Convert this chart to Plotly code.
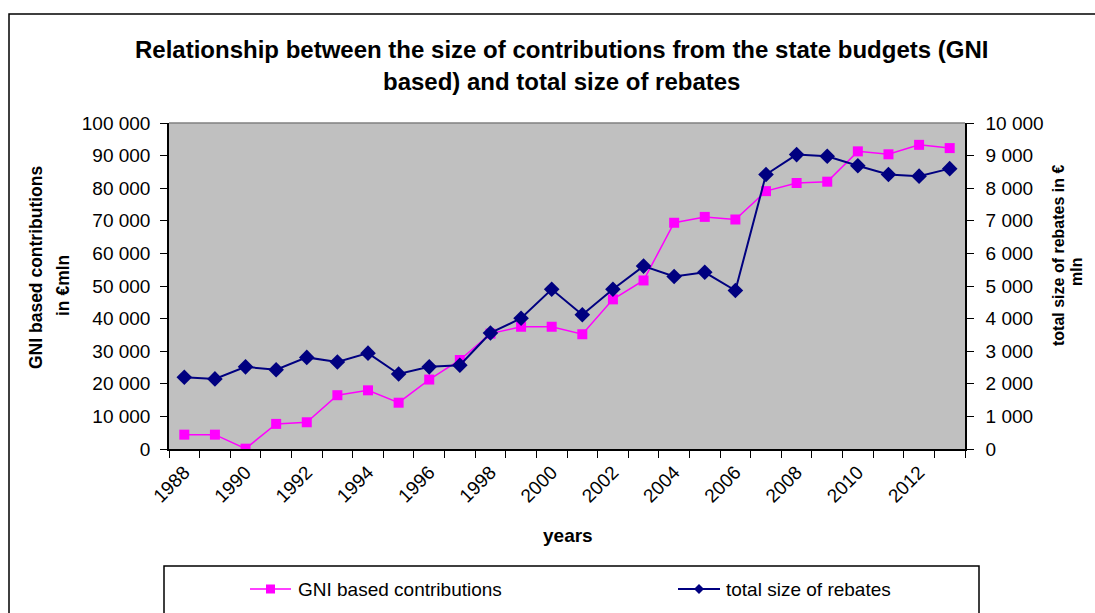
import plotly.graph_objects as go

years = list(range(1988, 2014))
gni = [4400, 4400, 100, 7700, 8200, 16500, 18000, 14200, 21300, 27300,
       35400, 37500, 37500, 35200, 45900, 51700, 69400, 71200, 70400, 79100,
       81600, 82000, 91300, 90400, 93300, 92300]
rebates = [2200, 2150, 2520, 2430, 2810, 2670, 2940, 2300, 2520, 2570,
           3560, 4010, 4900, 4120, 4900, 5610, 5290, 5420, 4860, 8420,
           9030, 8980, 8690, 8420, 8370, 8600]
tick_years = list(range(1988, 2013, 2))
left_ticks = list(range(0, 100001, 10000))
right_ticks = list(range(0, 10001, 1000))

def fmt(v):
    return f"{v:,}".replace(",", " ")

PINK = "#FF00FF"
NAVY = "#000080"
FONT = "Arial, Liberation Sans, sans-serif"

# plot area in pixels
L, R, T, B = 169, 965, 123, 449
W, H = R - L, B - T

def px(x):
    return (x - L) / W

def py(y):
    return (B - y) / H

fig = go.Figure()
fig.add_trace(go.Scatter(x=years, y=gni, mode="lines+markers", name="GNI based contributions",
                         line=dict(color=PINK, width=1.5),
                         marker=dict(symbol="square", size=10, color=PINK), yaxis="y"))
fig.add_trace(go.Scatter(x=years, y=rebates, mode="lines+markers", name="total size of rebates",
                         line=dict(color=NAVY, width=2),
                         marker=dict(symbol="diamond", size=12, color=NAVY), yaxis="y2"))

TICKSZ = 19
fig.update_layout(
    width=1095, height=613,
    margin=dict(l=L, r=1095 - R, t=T, b=613 - B, pad=0),
    paper_bgcolor="white", plot_bgcolor="#C0C0C0",
    showlegend=False,
    font=dict(family=FONT, color="black", size=TICKSZ),
    xaxis=dict(range=[1987.5, 2013.5], tickvals=tick_years, ticktext=[str(y) for y in tick_years],
               tickangle=-45, ticks="", showgrid=False, zeroline=False,
               showline=True, linecolor="black", linewidth=1.5, ticklabelstandoff=3,
               tickfont=dict(size=TICKSZ, family=FONT),
               minor=dict(tickmode="linear", tick0=1987.5, dtick=1, ticks="outside",
                          ticklen=7, tickcolor="black", showgrid=False)),
    yaxis=dict(range=[0, 100000], tickvals=left_ticks, ticktext=[fmt(v) for v in left_ticks],
               ticks="outside", ticklen=7, tickcolor="black", showgrid=False, zeroline=False,
               showline=True, linecolor="black", linewidth=1.5, ticklabelstandoff=6,
               tickfont=dict(size=TICKSZ, family=FONT)),
    yaxis2=dict(range=[0, 10000], overlaying="y", side="right", tickvals=right_ticks,
                ticktext=[fmt(v) for v in right_ticks],
                ticks="outside", ticklen=7, tickcolor="black", showgrid=False, zeroline=False,
                showline=True, linecolor="black", linewidth=1.5, ticklabelstandoff=8,
                tickfont=dict(size=TICKSZ, family=FONT)),
)

shapes = []
# outer chart border (partially off-screen)
shapes.append(dict(type="rect", xref="paper", yref="paper", x0=px(9), x1=px(1120),
                   y0=py(640), y1=py(14), line=dict(color="black", width=1.5), layer="below"))
# plot-area top border
shapes.append(dict(type="line", xref="paper", yref="paper", x0=0, x1=1, y0=1, y1=1,
                   line=dict(color="#808080", width=1.5)))
# legend box
shapes.append(dict(type="rect", xref="paper", yref="paper", x0=px(164), x1=px(979),
                   y0=py(640), y1=py(566), line=dict(color="black", width=1.5)))
# legend symbols
ly = 589
shapes.append(dict(type="line", xref="paper", yref="paper", x0=px(250), x1=px(291),
                   y0=py(ly), y1=py(ly), line=dict(color=PINK, width=1.5)))
shapes.append(dict(type="rect", xref="paper", yref="paper", x0=px(266), x1=px(275),
                   y0=py(ly + 4.5), y1=py(ly - 4.5), fillcolor=PINK, line=dict(width=0)))
shapes.append(dict(type="line", xref="paper", yref="paper", x0=px(678), x1=px(720),
                   y0=py(ly), y1=py(ly), line=dict(color=NAVY, width=2)))
cx = 699
shapes.append(dict(type="path", xref="paper", yref="paper",
                   path=f"M {px(cx-5)},{py(ly)} L {px(cx)},{py(ly-5)} L {px(cx+5)},{py(ly)} L {px(cx)},{py(ly+5)} Z",
                   fillcolor=NAVY, line=dict(width=0)))
fig.update_layout(shapes=shapes)

ann = []
ann.append(dict(text="<b>Relationship between the size of contributions from the state budgets (GNI</b>",
                x=px(561), y=py(49), xref="paper", yref="paper", showarrow=False,
                xanchor="center", yanchor="middle", font=dict(size=24, family=FONT)))
ann.append(dict(text="<b>based) and total size of rebates</b>",
                x=px(561), y=py(81), xref="paper", yref="paper", showarrow=False,
                xanchor="center", yanchor="middle", font=dict(size=24, family=FONT)))
ann.append(dict(text="<b>years</b>", x=px(568), y=py(535), xref="paper", yref="paper",
                showarrow=False, xanchor="center", yanchor="middle", font=dict(size=19, family=FONT)))
ann.append(dict(text="<b>GNI based contributions</b>", x=px(36), y=py(268), xref="paper", yref="paper",
                showarrow=False, textangle=-90, xanchor="center", yanchor="middle",
                font=dict(size=17.5, family=FONT)))
ann.append(dict(text="<b>in €mln</b>", x=px(63), y=py(286), xref="paper", yref="paper",
                showarrow=False, textangle=-90, xanchor="center", yanchor="middle",
                font=dict(size=17.5, family=FONT)))
ann.append(dict(text="<b>total size of rebates in €</b>", x=px(1058), y=py(256), xref="paper", yref="paper",
                showarrow=False, textangle=-90, xanchor="center", yanchor="middle",
                font=dict(size=16, family=FONT)))
ann.append(dict(text="<b>mln</b>", x=px(1076), y=py(272), xref="paper", yref="paper",
                showarrow=False, textangle=-90, xanchor="center", yanchor="middle",
                font=dict(size=16, family=FONT)))
ann.append(dict(text="GNI based contributions", x=px(296), y=py(ly), xref="paper", yref="paper",
                showarrow=False, xanchor="left", yanchor="middle", font=dict(size=19, family=FONT)))
ann.append(dict(text="total size of rebates", x=px(724), y=py(ly), xref="paper", yref="paper",
                showarrow=False, xanchor="left", yanchor="middle", font=dict(size=19, family=FONT)))
fig.update_layout(annotations=ann)

fig.write_html("out.html")
